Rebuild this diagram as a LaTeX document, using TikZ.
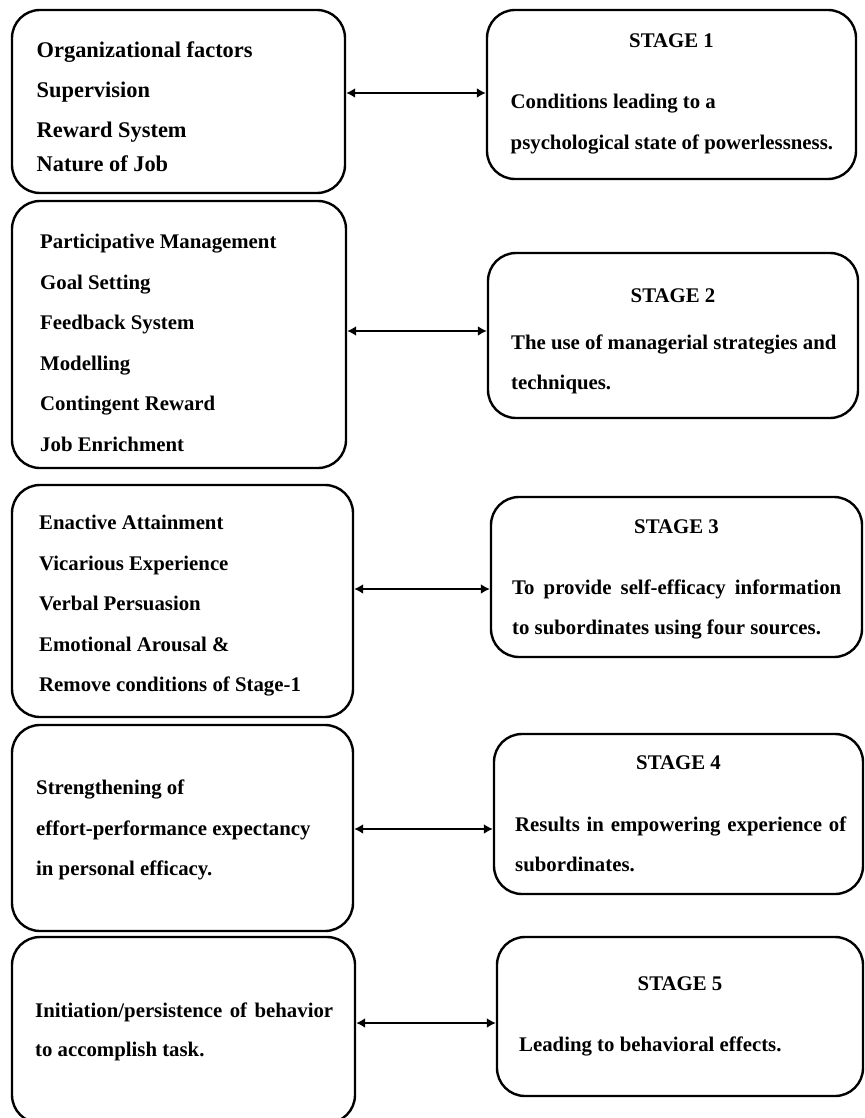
\documentclass[tikz,border=0pt]{standalone}
\usepackage{fontspec}
\setmainfont{Liberation Serif}
\usetikzlibrary{arrows.meta}
\begin{document}
\begin{tikzpicture}[x=1pt,y=-1pt,
  box/.style={draw=black,line width=2.4pt,rounded corners=28pt,inner sep=0pt},
  txt/.style={anchor=base west,inner sep=0pt,align=left,font=\bfseries\fontsize{20.8}{40.5}\selectfont},
  bigtxt/.style={txt,font=\bfseries\fontsize{22.4}{40.5}\selectfont},
  head/.style={anchor=base,inner sep=0pt,font=\bfseries\fontsize{20.8}{25}\selectfont},
  arr/.style={line width=2.2pt,{Latex[length=9pt,width=10pt]}-{Latex[length=9pt,width=10pt]}}]
\useasboundingbox (0,0) rectangle (864,1118);
% boxes
\node[box,minimum width=333pt,minimum height=183pt] (l1) at (178.5,101.5) {};
\node[box,minimum width=369pt,minimum height=169pt] (r1) at (671.5,94.5) {};
\node[box,minimum width=334pt,minimum height=267pt] (l2) at (179,334.5) {};
\node[box,minimum width=370pt,minimum height=165pt] (r2) at (673,335.5) {};
\node[box,minimum width=341pt,minimum height=232pt] (l3) at (182.5,601) {};
\node[box,minimum width=371pt,minimum height=160pt] (r3) at (676.5,577) {};
\node[box,minimum width=341pt,minimum height=206pt] (l4) at (182.5,828) {};
\node[box,minimum width=369pt,minimum height=160pt] (r4) at (678.5,814) {};
\node[box,minimum width=343pt,minimum height=186pt] (l5) at (183.5,1030) {};
\node[box,minimum width=366pt,minimum height=159pt] (r5) at (680,1016.5) {};
% arrow levels
\coordinate (a1) at (0,93);
\coordinate (a2) at (0,331);
\coordinate (a3) at (0,589);
\coordinate (a4) at (0,829);
\coordinate (a5) at (0,1023);
\draw[arr] (l1.east |- a1) -- (r1.west |- a1);
\draw[arr] (l2.east |- a2) -- (r2.west |- a2);
\draw[arr] (l3.east |- a3) -- (r3.west |- a3);
\draw[arr] (l4.east |- a4) -- (r4.west |- a4);
\draw[arr] (l5.east |- a5) -- (r5.west |- a5);
% texts left (anchor = baseline of the last line)
\node[bigtxt] (t1) at (36.5,171.7) {Organizational factors\\[-0.5pt]Supervision\\[-1pt]Reward System\\[-6pt]Nature of Job};
\node[txt] (t2) at (40,451) {Participative Management\\Goal Setting\\Feedback System\\Modelling\\Contingent Reward\\Job Enrichment};
\node[txt] (t3) at (39,691.5) {Enactive Attainment\\Vicarious Experience\\Verbal Persuasion\\Emotional Arousal \&\\Remove conditions of Stage-1};
\node[txt] (t4) at (36,875.5) {Strengthening of\\effort-performance expectancy\\in personal efficacy.};
\node[txt] (t5) at (35,1056) {\makebox[298pt][s]{Initiation/persistence of behavior}\\[-1.5pt]to accomplish task.};
% texts right
\node[head] (h1) at (671.5,48) {STAGE 1};
\node[txt] (u1) at (510.5,149.5) {Conditions leading to a\\psychological state of powerlessness.};
\node[head] (h2) at (673,302) {STAGE 2};
\node[txt] (u2) at (511,389.5) {The use of managerial strategies and\\techniques.};
\node[head] (h3) at (676.5,533) {STAGE 3};
\node[txt] (u3) at (512,634.5) {\makebox[329pt][s]{To provide self-efficacy information}\\[-0.5pt]to subordinates using four sources.};
\node[head] (h4) at (678.5,769) {STAGE 4};
\node[txt] (u4) at (515,871.5) {\makebox[331pt][s]{Results in empowering experience of}\\subordinates.};
\node[head] (h5) at (680,990) {STAGE 5};
\node[txt] (u5) at (519,1051) {Leading to behavioral effects.};
\end{tikzpicture}
\end{document}
